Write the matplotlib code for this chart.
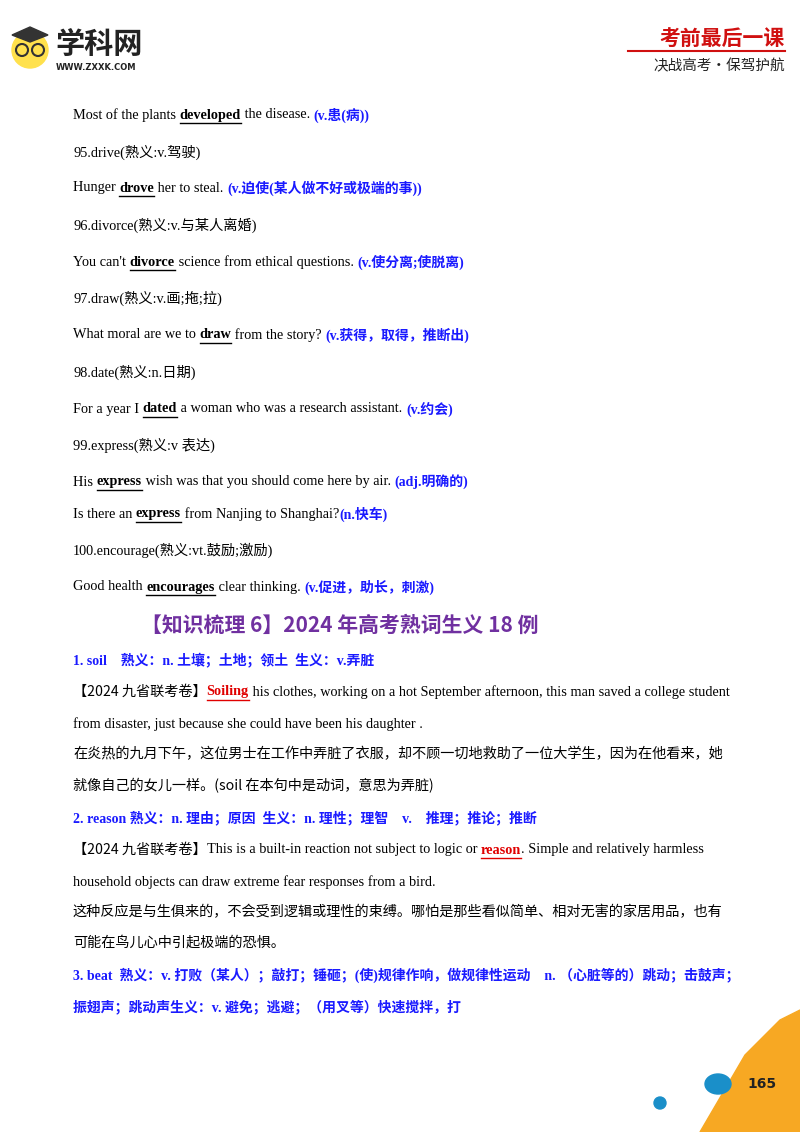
import matplotlib
matplotlib.use("Agg")
import matplotlib.pyplot as plt
from matplotlib.patches import Circle, Polygon, Ellipse

W, H = 800, 1132
fig = plt.figure(figsize=(8, 11.32), dpi=100)
ax = fig.add_axes([0, 0, 1, 1])
ax.set_xlim(0, W); ax.set_ylim(H, 0); ax.axis("off")
fig.canvas.draw()
R = fig.canvas.get_renderer()

SERIF = ["Liberation Serif", "Noto Sans CJK SC"]
CJK = ["Noto Sans CJK SC", "Liberation Serif"]
BLUE = "#1a1aff"; RED = "#e00000"; PURPLE = "#7030A0"

# style codes: n normal, u bold underline, b blue bold, r red bold underline, c chinese body
lines = [
    (115, [("Most of the plants ", "n"), ("developed", "u"), (" the disease. ", "n"), ("(v.患(病))", "b")]),
    (152, [("95.drive(熟义:v.驾驶)", "n")]),
    (188, [("Hunger ", "n"), ("drove", "u"), (" her to steal. ", "n"), ("(v.迫使(某人做不好或极端的事))", "b")]),
    (225, [("96.divorce(熟义:v.与某人离婚)", "n")]),
    (262, [("You can't ", "n"), ("divorce", "u"), (" science from ethical questions. ", "n"), ("(v.使分离;使脱离)", "b")]),
    (298, [("97.draw(熟义:v.画;拖;拉)", "n")]),
    (335, [("What moral are we to ", "n"), ("draw", "u"), (" from the story? ", "n"), ("(v.获得，取得，推断出)", "b")]),
    (372, [("98.date(熟义:n.日期)", "n")]),
    (409, [("For a year I ", "n"), ("dated", "u"), (" a woman who was a research assistant. ", "n"), ("(v.约会)", "b")]),
    (445, [("99.express(熟义:v 表达)", "n")]),
    (482, [("His ", "n"), ("express", "u"), (" wish was that you should come here by air. ", "n"), ("(adj.明确的)", "b")]),
    (514, [("Is there an ", "n"), ("express", "u"), (" from Nanjing to Shanghai?", "n"), ("(n.快车)", "b")]),
    (550, [("100.encourage(熟义:vt.鼓励;激励)", "n")]),
    (587, [("Good health ", "n"), ("encourages", "u"), (" clear thinking. ", "n"), ("(v.促进，助长，刺激)", "b")]),
    (661, [("1. soil　熟义：n. 土壤；土地；领土  生义：v.弄脏", "b")]),
    (692, [("【2024 九省联考卷】", "c"), ("Soiling", "r"), (" his clothes, working on a hot September afternoon, this man saved a college student", "n")]),
    (724, [("from disaster, just because she could have been his daughter .", "n")]),
    (754, [("在炎热的九月下午，这位男士在工作中弄脏了衣服，却不顾一切地救助了一位大学生，因为在他看来，她", "c")]),
    (786, [("就像自己的女儿一样。(soil 在本句中是动词，意思为弄脏)", "c")]),
    (818, [("2. reason 熟义：n. 理由；原因  生义：n. 理性；理智　v.　推理；推论；推断", "b")]),
    (850, [("【2024 九省联考卷】", "c"), ("This is a built-in reaction not subject to logic or ", "n"), ("reason", "r"), (". Simple and relatively harmless", "n")]),
    (882, [("household objects can draw extreme fear responses from a bird.", "n")]),
    (912, [("这种反应是与生俱来的，不会受到逻辑或理性的束缚。哪怕是那些看似简单、相对无害的家居用品，也有", "c")]),
    (943, [("可能在鸟儿心中引起极端的恐惧。", "c")]),
    (975, [("3. beat  熟义：v. 打败（某人）；敲打；锤砸；(使)规律作响，做规律性运动　n. （心脏等的）跳动；击鼓声；", "b")]),
    (1007, [("振翅声；跳动声生义：v. 避免；逃避；（用叉等）快速搅拌，打", "b")]),
]
heading = "【知识梳理 6】2024 年高考熟词生义 18 例"

def style(s):
    if s == "n": return dict(family=SERIF, color="black", weight="normal", size=10.3)
    if s == "u": return dict(family=SERIF, color="black", weight="bold", size=10.3)
    if s == "b": return dict(family=SERIF, color=BLUE, weight="bold", size=10.0)
    if s == "r": return dict(family=SERIF, color=RED, weight="bold", size=10.3)
    return dict(family=CJK, color="black", weight="normal", size=10.2)

for y, runs in lines:
    x = 73
    for txt, s in runs:
        t = ax.text(x, y, txt, va="center", ha="left", **style(s))
        w = t.get_window_extent(R).width
        if s in ("u", "r"):
            ax.plot([x, x + w], [y + 8, y + 8], color=style(s)["color"], lw=1)
        x += w

ax.text(340, 625, heading, ha="center", va="center", family=CJK, weight="bold", size=15, color=PURPLE)

# header logo
ax.add_patch(Circle((30, 50), 18, color="#ffe14d"))
ax.add_patch(Circle((22, 50), 6, fill=False, ec="#333", lw=1.5))
ax.add_patch(Circle((38, 50), 6, fill=False, ec="#333", lw=1.5))
ax.add_patch(Polygon([[12, 35], [30, 27], [48, 35], [30, 42]], color="#333"))
ax.text(55, 44, "学科网", family=CJK, weight="bold", size=21, color="#222", va="center")
ax.text(56, 68, "WWW.ZXXK.COM", family="DejaVu Sans", weight="bold", size=6, color="#222", va="center")
ax.text(785, 38, "考前最后一课", family=CJK, weight="bold", size=15, color="#d01010", ha="right", va="center")
ax.plot([628, 785], [51, 51], color="#d01010", lw=1.5)
ax.text(785, 66, "决战高考·保驾护航", family=CJK, size=10.5, color="#222", ha="right", va="center")

# footer decoration
ax.add_patch(Polygon([[700, 1132], [745, 1055], [780, 1020], [800, 1010], [800, 1132]], color="#f7a823"))
ax.add_patch(Ellipse((718, 1084), 26, 20, color="#1a8fc9"))
ax.add_patch(Circle((660, 1103), 6, color="#1a8fc9"))
ax.text(762, 1084, "165", family="DejaVu Sans", weight="bold", size=10, color="#222", ha="center", va="center")

fig.savefig("out.png", dpi=100)
